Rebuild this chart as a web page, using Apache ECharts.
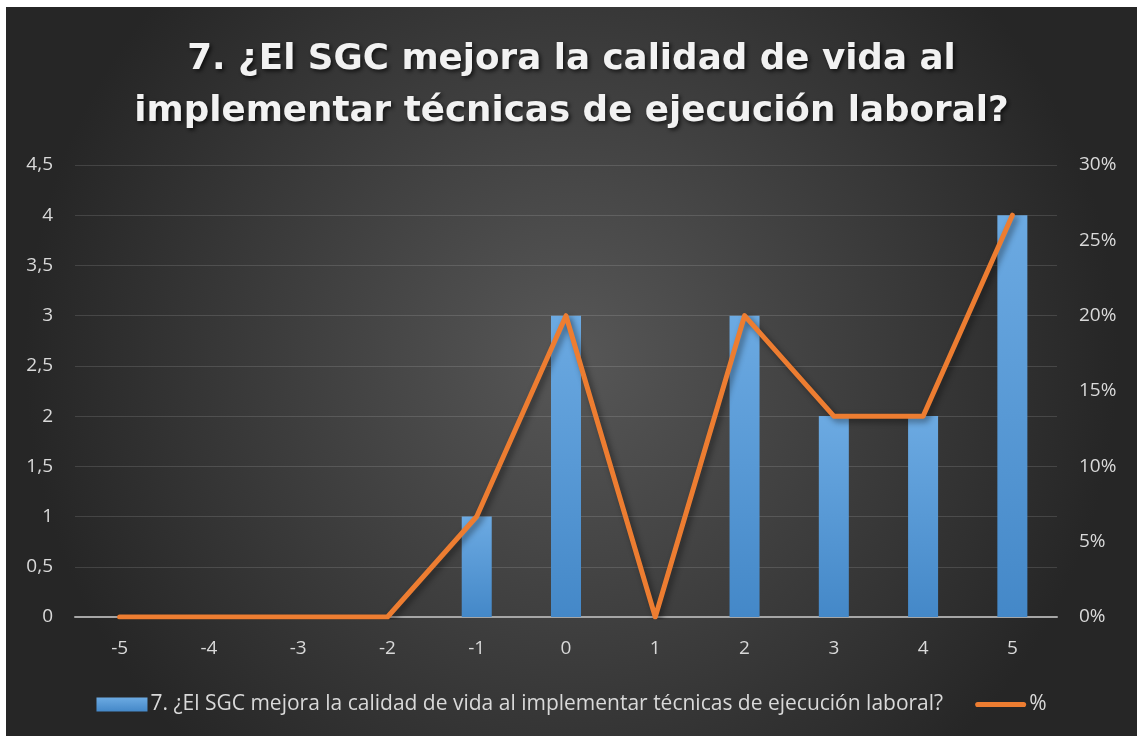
<!DOCTYPE html>
<html>
<head>
<meta charset="utf-8">
<script src="https://cdn.jsdelivr.net/npm/echarts@6/dist/echarts.min.js"></script>
<style>
  html, body { margin: 0; padding: 0; background: #fff; }
  #main { position: absolute; left: 6px; top: 7px; width: 1131px; height: 729px; }
</style>
</head>
<body>
<div id="main"></div>
<script>
// categorias del eje x
var categorias = ['-5', '-4', '-3', '-2', '-1', '0', '1', '2', '3', '4', '5'];
// cantidad de respuestas
var cantidades = [0, 0, 0, 0, 1, 3, 0, 3, 2, 2, 4];
// porcentaje de respuestas
var porcentajes = [0, 0, 0, 0, 6.67, 20, 0, 20, 13.33, 13.33, 26.67];

var titulo = '7. ¿El SGC mejora la calidad de vida al\nimplementar técnicas de ejecución laboral?';
var nombreBarras = '7. ¿El SGC mejora la calidad de vida al implementar técnicas de ejecución laboral?';

var myChart = echarts.init(document.getElementById('main'));

var option = {
  backgroundColor: {
    type: 'radial', x: 0.5, y: 0.48, r: 0.75,
    colorStops: [
      { offset: 0, color: '#575757' },
      { offset: 1, color: '#262626' }
    ]
  },
  textStyle: { fontFamily: 'Open Sans' },
  title: {
    text: titulo,
    left: 'center',
    top: 22,
    textStyle: {
      color: '#f2f2f2',
      fontSize: 35.7,
      fontWeight: 'bold',
      fontFamily: 'DejaVu Sans',
      lineHeight: 52,
      textShadowColor: 'rgba(0,0,0,0.7)',
      textShadowBlur: 4,
      textShadowOffsetX: 2,
      textShadowOffsetY: 2
    }
  },
  legend: {
    bottom: 16,
    left: 'center',
    itemWidth: 51,
    itemHeight: 14,
    itemGap: 32,
    textStyle: { color: '#d9d9d9', fontSize: 21, fontFamily: 'Open Sans', padding: [0, 0, 0, -2] },
    data: [
      { name: nombreBarras, icon: 'rect' },
      { name: '%', icon: 'path://M3,0 L57,0 A3,3 0 0 1 57,6 L3,6 A3,3 0 0 1 3,0 Z' }
    ]
  },
  grid: { left: 69, right: 80, top: 158, bottom: 119 },
  xAxis: {
    type: 'category',
    data: categorias,
    axisTick: { show: false },
    axisLine: { lineStyle: { color: '#a6a6a6', width: 2 } },
    axisLabel: { color: '#d9d9d9', fontSize: 19, margin: 22 }
  },
  yAxis: [{
    type: 'value',
    min: 0, max: 4.5, interval: 0.5,
    axisLine: { show: false },
    axisTick: { show: false },
    splitLine: { lineStyle: { color: 'rgba(255,255,255,0.13)', width: 1 } },
    axisLabel: {
      color: '#d9d9d9', fontSize: 19, margin: 22,
      formatter: function (v) { return String(v).replace('.', ','); }
    }
  }, {
    type: 'value',
    min: 0, max: 30, interval: 5,
    axisLine: { show: false },
    axisTick: { show: false },
    splitLine: { show: false },
    axisLabel: { color: '#d9d9d9', fontSize: 19, margin: 22, formatter: '{value}%' }
  }],
  series: [{
    name: nombreBarras,
    type: 'bar',
    data: cantidades,
    barWidth: 30,
    itemStyle: {
      color: new echarts.graphic.LinearGradient(0, 0, 0, 1, [
        { offset: 0, color: '#6caae2' },
        { offset: 1, color: '#4488c8' }
      ]),
      shadowColor: 'rgba(0,0,0,0.45)',
      shadowBlur: 6,
      shadowOffsetX: 3,
      shadowOffsetY: 2
    }
  }, {
    name: '%',
    type: 'line',
    yAxisIndex: 1,
    data: porcentajes,
    symbol: 'none',
    z: 5,
    lineStyle: {
      color: '#ed7d31',
      width: 5,
      cap: 'round',
      join: 'round',
      shadowColor: 'rgba(0,0,0,0.45)',
      shadowBlur: 6,
      shadowOffsetX: 3,
      shadowOffsetY: 3
    },
    itemStyle: { color: '#ed7d31' }
  }]
};

myChart.setOption(option);
window.addEventListener('resize', function () { myChart.resize(); });
</script>
</body>
</html>
